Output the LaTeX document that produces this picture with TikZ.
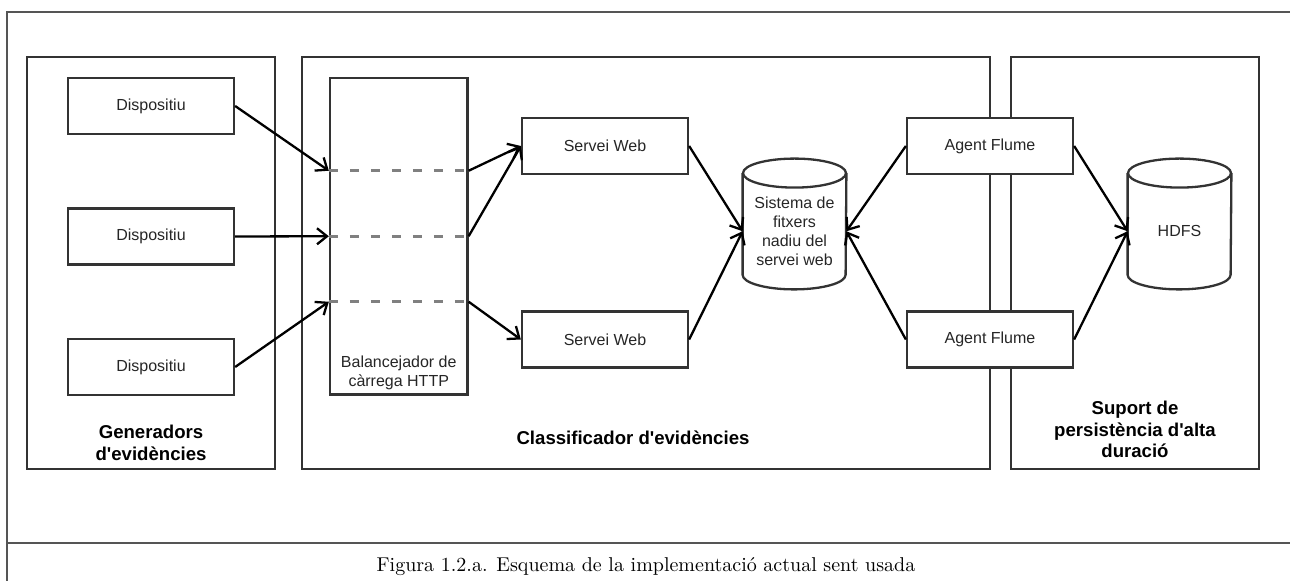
\documentclass[tikz,border=0pt]{standalone}
\usepackage{fontspec}
\newfontfamily\dsans{Liberation Sans}
\usetikzlibrary{arrows.meta}
\definecolor{edge}{HTML}{333333}
\definecolor{dashc}{HTML}{808080}
\definecolor{framec}{HTML}{555555}

\begin{document}
\begin{tikzpicture}[x=0.5pt,y=-0.5pt,
  box/.style={draw=edge, line width=1.15pt, fill=white, minimum width=83pt,
    minimum height=28pt, inner sep=0pt, text=black!85,
    font=\dsans\fontsize{8}{9.6}\selectfont},
  panel/.style={draw=edge, line width=1.15pt, inner sep=0pt},
  plabel/.style={font=\dsans\bfseries\fontsize{9.3}{10.8}\selectfont,
    align=center, text=black, inner sep=0pt},
  small/.style={font=\dsans\fontsize{8}{9.6}\selectfont, align=center,
    text=black!85, inner sep=0pt},
  dbbody/.style={minimum width=51.5pt, minimum height=57.75pt, inner sep=0pt,
    align=center, text=black!85, font=\dsans\fontsize{8}{9.6}\selectfont},
  dbline/.style={draw=edge, line width=1.15pt, line join=round},
  flow/.style={-{Straight Barb[length=5pt,width=8pt]}, line width=1.15pt, black},
  lane/.style={draw=dashc, line width=1.3pt, dash pattern=on 4.5pt off 6pt},
  framel/.style={draw=framec, line width=0.65pt},
]
\useasboundingbox (0,0) rectangle (1290,581);

% page frame and caption rule
\draw[framel] (1290,12) -- (7,12) -- (7,581);
\draw[framel] (7,543) -- (1290,543);

% the three containers
\node[panel, minimum width=124pt, minimum height=206pt] (gen) at (151,263) {};
\node[panel, minimum width=344pt, minimum height=206pt] (cls) at (646,263) {};
\node[panel, minimum width=124pt, minimum height=206pt] (sup) at (1135,263) {};

\node[plabel] (genlbl) at (151,443) {Generadors\\d\textquotesingle evidències};
\node[plabel] (clslbl) at (633,438) {Classificador d\textquotesingle evidències};
\node[plabel] (suplbl) at (1135,429.5) {Suport de\\persistència d\textquotesingle alta\\duració};

% devices
\node[box] (dev1) at (151,106) {Dispositiu};
\node[box] (dev2) at (151,236.5) {Dispositiu};
\node[box] (dev3) at (151,367) {Dispositiu};

% load balancer with its three lanes
\node[panel, fill=white, minimum width=68.75pt, minimum height=158.25pt] (lb) at (398.75,236.25) {};
\node[small] (lbtxt) at (398.75,372.5) {Balancejador de\\càrrega HTTP};
\coordinate (l1a) at ([yshift=32.75pt]lb.west);
\coordinate (l1b) at ([yshift=32.75pt]lb.east);
\coordinate (l2a) at (lb.west);
\coordinate (l2b) at (lb.east);
\coordinate (l3a) at ([yshift=-32.75pt]lb.west);
\coordinate (l3b) at ([yshift=-32.75pt]lb.east);
\draw[lane] (l1a) -- (l1b);
\draw[lane] (l2a) -- (l2b);
\draw[lane] (l3a) -- (l3b);

% web services and flume agents
\node[box] (web1) at (605,146) {Servei Web};
\node[box] (web2) at (605,339.5) {Servei Web};
\node[box] (af1) at (990,146) {Agent Flume};
\node[box] (af2) at (990,339.5) {Agent Flume};

% storage cylinders
\node[dbbody] (fs) at (794.5,231.25) {Sistema de\\fitxers\\nadiu del\\servei web};
\node[dbbody] (hdfs) at (1179.5,231.25) {HDFS};
\foreach \db in {fs,hdfs} {
  \draw[dbline] (\db.north west) -- ([yshift=7.25pt]\db.south west)
    arc[start angle=180, end angle=360, x radius=25.75pt, y radius=7.25pt]
    -- (\db.north east);
  \draw[dbline] (\db.north) ellipse[x radius=25.75pt, y radius=7.25pt];
}

% connectors
\draw[flow] (dev1.east) -- (l1a);
\draw[flow] (dev2.east) -- (l2a);
\draw[flow] (dev3.east) -- (l3a);
\draw[flow] (l1b) -- (web1.west);
\draw[flow] (l2b) -- (web1.west);
\draw[flow] (l3b) -- (web2.west);
\draw[flow] (web1.east) -- (fs.west);
\draw[flow] (web2.east) -- (fs.west);
\draw[flow] (af1.west) -- (fs.east);
\draw[flow] (af2.west) -- (fs.east);
\draw[flow] (af1.east) -- (hdfs.west);
\draw[flow] (af2.east) -- (hdfs.west);

% caption
\node[anchor=base, inner sep=0pt] (cap) at (646,572)
  {Figura 1.2.a. Esquema de la implementació actual sent usada};
\end{tikzpicture}
\end{document}
